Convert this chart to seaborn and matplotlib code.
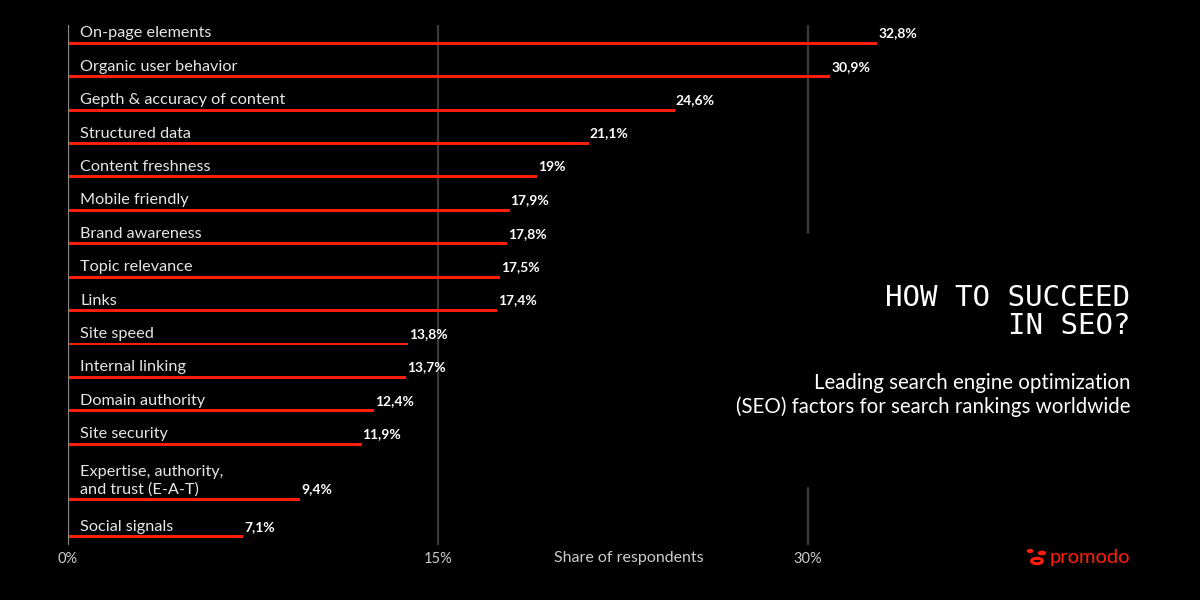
"""Leading SEO factors for search rankings worldwide - dark promodo style chart."""
import matplotlib
matplotlib.use("Agg")
import matplotlib.pyplot as plt
import matplotlib.patches as mpatches
import seaborn as sns
import pandas as pd

# data
factors = [
    "On-page elements",
    "Organic user behavior",
    "Gepth & accuracy of content",
    "Structured data",
    "Content freshness",
    "Mobile friendly",
    "Brand awareness",
    "Topic relevance",
    "Links",
    "Site speed",
    "Internal linking",
    "Domain authority",
    "Site security",
    "Expertise, authority,\nand trust (E-A-T)",
    "Social signals",
]
shares = [32.8, 30.9, 24.6, 21.1, 19, 17.9, 17.8, 17.5, 17.4,
          13.8, 13.7, 12.4, 11.9, 9.4, 7.1]
ticks = [0, 15, 30]
tick_labels = ["0%", "15%", "30%"]

# layout: row slot of each bar (the E-A-T row needs room for two lines)
row_slots = list(range(13)) + [13.65, 14.77]

RED = "#ff1e0a"
BG = "#000000"

sns.set_theme(style="dark")
plt.rcParams["font.family"] = ["Lato", "DejaVu Sans"]

fig = plt.figure(figsize=(12, 6), dpi=100, facecolor=BG)
ax = fig.add_axes([68 / 1200, 55 / 600, 1062 / 1200, 520 / 600])
ax.set_facecolor(BG)

df = pd.DataFrame({"factor": factors, "share": shares, "row": row_slots})

sns.barplot(data=df, x="share", y="row", orient="h", native_scale=True,
            color=RED, saturation=1, width=0.085, errorbar=None,
            linewidth=0, ax=ax)

ax.set_xlim(0, 43.05)
ax.set_ylim(15.02, -0.548)

# grid lines and axis line
ax.axvline(15, color="#3a3a3a", lw=1.6, zorder=0)
ax.axvline(30, ymin=0.6, ymax=1, color="#3a3a3a", lw=1.6, zorder=0)
ax.axvline(30, ymin=0, ymax=0.11, color="#3a3a3a", lw=1.6, zorder=0)
ax.axvline(0, color="#8a8a8a", lw=1.6, zorder=3)

for s in ax.spines.values():
    s.set_visible(False)

for name, val, row in zip(factors, shares, row_slots):
    ax.annotate(name, (0, row), xytext=(12, 6), textcoords="offset pixels",
                ha="left", va="baseline", color="#e6e6e6", fontsize=11.7,
                linespacing=1.25)
    lbl = f"{val:g}".replace(".", ",") + "%"
    ax.annotate(lbl, (val, row), xytext=(1, 4), textcoords="offset pixels",
                ha="left", va="bottom", color="white", fontsize=10,
                fontweight="bold")

ax.set_yticks([])
ax.set_ylabel("")
ax.set_xlabel("")
ax.set_xticks(ticks)
ax.set_xticklabels(tick_labels, color="#cccccc", fontsize=10.5)
ax.tick_params(axis="x", length=0, pad=5)

fig.text(629 / 1200, 1 - 558 / 600, "Share of respondents", ha="center",
         va="center", color="#cccccc", fontsize=11.5)

# title block
fig.text(1130 / 1200, 1 - 298 / 600, "HOW TO SUCCEED", ha="right",
         va="center", color="white", fontsize=21,
         family=["DejaVu Sans Mono"])
fig.text(1130 / 1200, 1 - 326 / 600, "IN SEO?", ha="right",
         va="center", color="white", fontsize=21,
         family=["DejaVu Sans Mono"])
fig.text(1130 / 1200, 1 - 383 / 600, "Leading search engine optimization",
         ha="right", va="center", color="white", fontsize=14.8)
fig.text(1130 / 1200, 1 - 407 / 600,
         "(SEO) factors for search rankings worldwide",
         ha="right", va="center", color="white", fontsize=14.8)

# logo
fig.text(1130 / 1200, 1 - 558 / 600, "promodo", ha="right", va="center",
         color=RED, fontsize=14.5)
fig.patches.append(mpatches.Circle((1037 / 1200, 1 - 561 / 600), 0.0045,
                                   transform=fig.transFigure, fill=False,
                                   ec=RED, lw=2.2))
fig.patches.append(mpatches.Circle((1030 / 1200, 1 - 551 / 600), 0.0022,
                                   transform=fig.transFigure, color=RED))
fig.patches.append(mpatches.Circle((1042 / 1200, 1 - 553 / 600), 0.0028,
                                   transform=fig.transFigure, color=RED))

fig.savefig("out.png", dpi=100, facecolor=BG)
